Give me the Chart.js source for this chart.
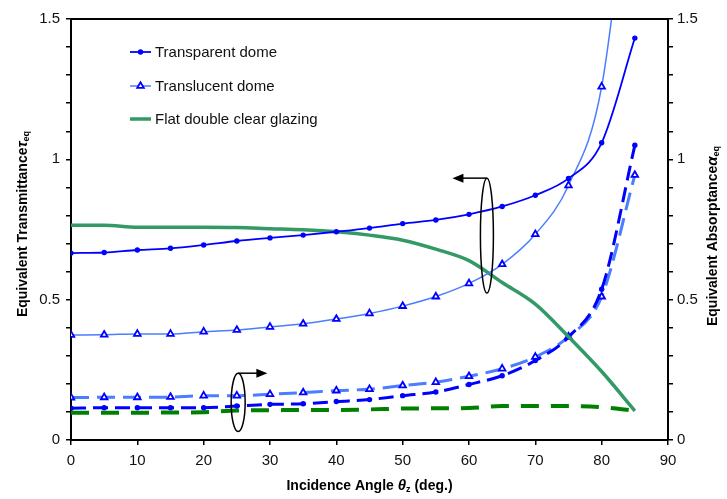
<!DOCTYPE html>
<html>
<head>
<meta charset="utf-8">
<title>Equivalent transmittance and absorptance</title>
<script src="https://cdn.jsdelivr.net/npm/chart.js@4.4.1/dist/chart.umd.min.js"></script>
<style>
    body { margin: 0; background: #fff; }
    #wrap { width: 727px; height: 499px; position: relative; }
</style>
</head>
<body>
<div id="wrap"><canvas id="chart"></canvas></div>
<script>
// Incidence angles (deg.)
const angles = [0, 5, 10, 15, 20, 25, 30, 35, 40, 45, 50, 55, 60, 65, 70, 75, 80, 85];

// Equivalent transmittance (left axis)
const transparentTau = [0.666, 0.668, 0.677, 0.683, 0.695, 0.709, 0.720, 0.730, 0.742, 0.755, 0.771, 0.784, 0.804, 0.832, 0.872, 0.932, 1.059, 1.432];
const translucentTau = [0.374, 0.375, 0.378, 0.378, 0.386, 0.392, 0.403, 0.414, 0.431, 0.451, 0.477, 0.511, 0.558, 0.626, 0.733, 0.907, 1.259, 2.2];
const flatTau = [0.765, 0.765, 0.758, 0.758, 0.758, 0.757, 0.753, 0.749, 0.742, 0.730, 0.712, 0.680, 0.639, 0.561, 0.484, 0.368, 0.244, 0.104];

// Equivalent absorptance (right axis)
const transparentAlpha = [0.113, 0.115, 0.115, 0.115, 0.115, 0.121, 0.127, 0.129, 0.137, 0.144, 0.158, 0.171, 0.198, 0.229, 0.283, 0.367, 0.537, 1.050];
const translucentAlpha = [0.151, 0.152, 0.152, 0.153, 0.158, 0.158, 0.163, 0.169, 0.176, 0.181, 0.194, 0.206, 0.227, 0.254, 0.296, 0.368, 0.511, 0.944];
const flatAlpha = [0.097, 0.097, 0.097, 0.098, 0.099, 0.105, 0.106, 0.107, 0.107, 0.109, 0.112, 0.113, 0.114, 0.121, 0.121, 0.121, 0.117, 0.104];

// Axis ticks
const xTicks = [0, 10, 20, 30, 40, 50, 60, 70, 80, 90];
const yLabels = [0, 0.5, 1, 1.5];

function toPoints(values) {
    return angles.map((a, i) => ({ x: a, y: values[i] }));
}

const FONT = 'Arial, "Liberation Sans", sans-serif';

// Ellipses with arrows marking which axis a group of curves belongs to
const markers = [
    { x: 62.7, yTop: 0.933, yBottom: 0.524, rx: 6.5, arrowTo: 57.5 },
    { x: 25.2, yTop: 0.238, yBottom: 0.030, rx: 7, arrowTo: 29.6 }
];

function drawMarker(ctx, ds, x, y) {
    ctx.fillStyle = ds.pointBackgroundColor;
    ctx.strokeStyle = ds.pointBorderColor;
    ctx.lineWidth = ds.pointBorderWidth || 1;
    ctx.setLineDash([]);
    ctx.beginPath();
    if (ds.pointStyle === 'triangle') {
        const r = ds.pointRadius;
        ctx.moveTo(x, y - r);
        ctx.lineTo(x + r * 0.87, y + r * 0.5);
        ctx.lineTo(x - r * 0.87, y + r * 0.5);
        ctx.closePath();
        ctx.fill();
        ctx.stroke();
    } else {
        ctx.arc(x, y, ds.pointRadius, 0, Math.PI * 2);
        ctx.fill();
    }
}

const overlayPlugin = {
    id: 'overlay',
    afterDatasetsDraw(chart) {
        const ctx = chart.ctx;
        const xs = chart.scales.x, ys = chart.scales.y;
        const area = chart.chartArea;
        ctx.save();

        // top frame line
        ctx.strokeStyle = '#000';
        ctx.lineWidth = 2;
        ctx.beginPath();
        ctx.moveTo(area.left - 1, area.top);
        ctx.lineTo(area.right + 1, area.top);
        ctx.stroke();

        // ellipses and arrows
        markers.forEach(m => {
            const cx = xs.getPixelForValue(m.x);
            const top = ys.getPixelForValue(m.yTop);
            const bottom = ys.getPixelForValue(m.yBottom);
            ctx.strokeStyle = '#000';
            ctx.lineWidth = 1.5;
            ctx.beginPath();
            ctx.ellipse(cx, (top + bottom) / 2, m.rx, (bottom - top) / 2, 0, 0, Math.PI * 2);
            ctx.stroke();

            const tx = xs.getPixelForValue(m.arrowTo);
            const dir = tx < cx ? -1 : 1;
            ctx.beginPath();
            ctx.moveTo(cx, top);
            ctx.lineTo(tx - dir * 8, top);
            ctx.stroke();
            ctx.fillStyle = '#000';
            ctx.beginPath();
            ctx.moveTo(tx, top);
            ctx.lineTo(tx - dir * 11, top - 4.5);
            ctx.lineTo(tx - dir * 11, top + 4.5);
            ctx.closePath();
            ctx.fill();
        });

        // legend inside the plot
        const rows = [52, 86, 119];
        chart.data.datasets.slice(0, 3).forEach((ds, i) => {
            const y = rows[i];
            ctx.strokeStyle = ds.borderColor;
            ctx.lineWidth = ds.borderWidth;
            ctx.setLineDash([]);
            ctx.beginPath();
            ctx.moveTo(130, y);
            ctx.lineTo(151, y);
            ctx.stroke();
            if (ds.pointRadius > 0) drawMarker(ctx, ds, 140.5, y);
            ctx.fillStyle = '#111';
            ctx.font = '15px ' + FONT;
            ctx.textAlign = 'left';
            ctx.textBaseline = 'middle';
            ctx.fillText(ds.label, 155, y + 1);
        });

        // axis titles (with subscripts)
        drawTitle(ctx, 'Incidence Angle ', '\u03b8', 'z', ' (deg.)', (area.left + area.right) / 2, 486, 0);
        drawTitle(ctx, 'Equivalent Transmittance', '\u03c4', 'eq', '', 23, 224, -Math.PI / 2);
        drawTitle(ctx, 'Equivalent Absorptance', '\u03b1', 'eq', '', 713, 236, -Math.PI / 2);
        ctx.restore();
    }
};

function drawTitle(ctx, before, symbol, sub, after, cx, cy, angle) {
    const main = 'bold 14px ' + FONT;
    const sym = 'bold italic 15px ' + FONT;
    const small = 'bold 9px ' + FONT;
    ctx.save();
    ctx.translate(cx, cy);
    ctx.rotate(angle);
    ctx.fillStyle = '#000';
    ctx.textBaseline = 'middle';
    ctx.textAlign = 'left';
    ctx.font = main; const w1 = ctx.measureText(before).width;
    ctx.font = sym; const w2 = ctx.measureText(symbol).width;
    ctx.font = small; const w3 = ctx.measureText(sub).width;
    ctx.font = main; const w4 = ctx.measureText(after).width;
    let x = -(w1 + w2 + w3 + w4) / 2;
    ctx.font = main; ctx.fillText(before, x, 0); x += w1;
    ctx.font = sym; ctx.fillText(symbol, x, 0); x += w2;
    ctx.font = small; ctx.fillText(sub, x, 4); x += w3;
    ctx.font = main; ctx.fillText(after, x, 0);
    ctx.restore();
}

function yAxis(position, width, padding) {
    return {
        type: 'linear',
        position: position,
        min: 0,
        max: 1.5,
        border: { color: '#000', width: 2 },
        grid: { drawOnChartArea: false, drawTicks: true, tickLength: 5, color: '#000', lineWidth: 1.5 },
        ticks: {
            stepSize: 0.1,
            autoSkip: false,
            padding: padding,
            color: '#111',
            font: { family: FONT, size: 15 },
            callback: function(value) {
                const v = Math.round(value * 10) / 10;
                return yLabels.includes(v) ? String(v) : '';
            }
        },
        afterFit: function(scale) { scale.width = width; }
    };
}

document.addEventListener('DOMContentLoaded', function() {
    new Chart(document.getElementById('chart'), {
        type: 'line',
        data: {
            datasets: [
                {
                    label: 'Transparent dome', data: toPoints(transparentTau), yAxisID: 'y',
                    borderColor: '#0000ff', borderWidth: 1.8,
                    pointStyle: 'circle', pointRadius: 2.7, pointBackgroundColor: '#0000ff', pointBorderColor: '#0000ff', pointBorderWidth: 0
                },
                {
                    label: 'Translucent dome', data: toPoints(translucentTau), yAxisID: 'y',
                    borderColor: '#4a7dff', borderWidth: 1.5,
                    pointStyle: 'triangle', pointRadius: 3.8, pointBackgroundColor: '#ffffff', pointBorderColor: '#0000ff', pointBorderWidth: 1.8
                },
                {
                    label: 'Flat double clear glazing', data: toPoints(flatTau), yAxisID: 'y',
                    borderColor: '#339966', borderWidth: 3.5, pointRadius: 0
                },
                {
                    label: 'Transparent dome (absorptance)', data: toPoints(transparentAlpha), yAxisID: 'y1',
                    borderColor: '#0000ff', borderWidth: 3, borderDash: [15, 7],
                    pointStyle: 'circle', pointRadius: 2.7, pointBackgroundColor: '#0000ff', pointBorderWidth: 0
                },
                {
                    label: 'Translucent dome (absorptance)', data: toPoints(translucentAlpha), yAxisID: 'y1',
                    borderColor: '#4a7dff', borderWidth: 3, borderDash: [18, 8],
                    pointStyle: 'triangle', pointRadius: 3.8, pointBackgroundColor: '#ffffff', pointBorderColor: '#0000ff', pointBorderWidth: 1.8
                },
                {
                    label: 'Flat double clear glazing (absorptance)', data: toPoints(flatAlpha), yAxisID: 'y1',
                    borderColor: '#008000', borderWidth: 4, borderDash: [18, 12], pointRadius: 0
                }
            ]
        },
        options: {
            responsive: true,
            maintainAspectRatio: false,
            animation: false,
            events: [],
            layout: { padding: { top: 19, left: 0, right: 0, bottom: 0 } },
            elements: { line: { cubicInterpolationMode: 'monotone', fill: false } },
            scales: {
                x: {
                    type: 'linear',
                    min: 0,
                    max: 90,
                    border: { color: '#000', width: 2 },
                    grid: { drawOnChartArea: false, drawTicks: true, tickLength: 5, color: '#000', lineWidth: 1.5 },
                    afterBuildTicks: function(scale) { scale.ticks = xTicks.map(v => ({ value: v })); },
                    ticks: { padding: 7, color: '#111', font: { family: FONT, size: 15 } },
                    afterFit: function(scale) { scale.height = 59; }
                },
                y: yAxis('left', 71, 6),
                y1: yAxis('right', 59, 4)
            },
            plugins: {
                legend: { display: false },
                tooltip: { enabled: false }
            }
        },
        plugins: [overlayPlugin]
    });
});
</script>
</body>
</html>
